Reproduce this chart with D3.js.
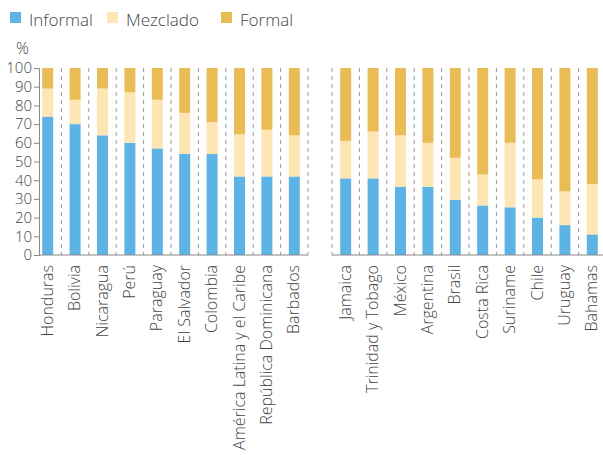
<!DOCTYPE html>
<html>
<head>
<meta charset="utf-8">
<script src="https://cdn.jsdelivr.net/npm/d3@7"></script>
<style>
  body { margin: 0; background: #fff; }
  text { font-family: "Open Sans", sans-serif; font-weight: 300; fill: #444; }
</style>
</head>
<body>
<div id="chartContainer"></div>
<script>
// Data
var leftCountries = ['Honduras','Bolivia','Nicaragua','Perú','Paraguay','El Salvador','Colombia','América Latina y el Caribe','República Dominicana','Barbados'];
var leftInformal  = [74, 70, 64, 60, 57, 54, 54, 42, 42, 42];
var leftMezclado  = [15, 13, 25, 27, 26, 22, 17, 22.5, 25, 22];

var rightCountries = ['Jamaica','Trinidad y Tobago','México','Argentina','Brasil','Costa Rica','Suriname','Chile','Uruguay','Bahamas'];
var rightInformal  = [41, 41, 36.5, 36.5, 29.5, 26.5, 25.5, 20, 16, 11];
var rightMezclado  = [20, 25, 27.5, 23.5, 22.5, 16.5, 34.5, 20.5, 18, 27];

var seriesNames = ['Informal', 'Mezclado', 'Formal'];
var colors = ['#5cb3e4', '#fde5b4', '#eabc55'];
var yTicks = [0, 10, 20, 30, 40, 50, 60, 70, 80, 90, 100];

const width = 603, height = 455;
const svg = d3.select('#chartContainer').append('svg')
  .attr('width', width).attr('height', height);

// Scales
var yScale = d3.scaleLinear().domain([0, 100]).range([255, 68]);
var xLeft = d3.scaleBand().domain(leftCountries).range([34, 308]);
var xRight = d3.scaleBand().domain(rightCountries).range([332, 606]);
const barW = 11;

// Legend
var legend = svg.append('g');
var legendX = [10, 107, 221];
seriesNames.forEach((name, i) => {
  legend.append('rect')
    .attr('x', legendX[i]).attr('y', 12)
    .attr('width', 11).attr('height', 11)
    .attr('fill', colors[i]);
  legend.append('text')
    .attr('x', legendX[i] + 19).attr('y', 26)
    .style('font-size', '17px')
    .text(name);
});
svg.append('text').attr('x', 16).attr('y', 54).style('font-size', '16px').text('%');

// Y axis
var yAxis = d3.axisLeft(yScale).tickValues(yTicks).tickSize(5).tickPadding(2);
svg.append('g')
  .attr('transform', 'translate(39,0)')
  .call(yAxis)
  .call(g => g.selectAll('.domain, .tick line').attr('stroke', '#888'))
  .call(g => g.selectAll('text').style('font-size', '15px').style('font-weight', 300).attr('fill', '#444').style('font-family', '"Open Sans", sans-serif'));

function drawGroup(countries, informal, mezclado, x, sepAfter, baseX0, baseX1) {
  var g = svg.append('g');
  // dashed separators
  g.selectAll('line.sep')
    .data(countries)
    .enter().append('line')
    .attr('class', 'sep')
    .attr('x1', d => sepAfter ? x(d) + x.step() : x(d))
    .attr('x2', d => sepAfter ? x(d) + x.step() : x(d))
    .attr('y1', yScale(100)).attr('y2', yScale(0))
    .attr('stroke', '#999').attr('stroke-width', 1)
    .attr('stroke-dasharray', '4,4');

  countries.forEach((c, i) => {
    var vals = [informal[i], mezclado[i], 100 - informal[i] - mezclado[i]];
    var cx = x(c) + x.bandwidth() / 2;
    var acc = 0;
    vals.forEach((v, k) => {
      g.append('rect')
        .attr('x', cx - barW / 2)
        .attr('width', barW)
        .attr('y', yScale(acc + v))
        .attr('height', yScale(acc) - yScale(acc + v))
        .attr('fill', colors[k]);
      acc += v;
    });
    g.append('text')
      .attr('transform', `translate(${cx + 5},265) rotate(-90)`)
      .attr('text-anchor', 'end')
      .style('font-size', '16px')
      .text(c);
  });

  // baseline
  g.append('line')
    .attr('x1', baseX0).attr('x2', baseX1)
    .attr('y1', yScale(0)).attr('y2', yScale(0))
    .attr('stroke', '#888');
}

drawGroup(leftCountries, leftInformal, leftMezclado, xLeft, true, 39, 308);
drawGroup(rightCountries, rightInformal, rightMezclado, xRight, false, 332, 603);
</script>
</body>
</html>
